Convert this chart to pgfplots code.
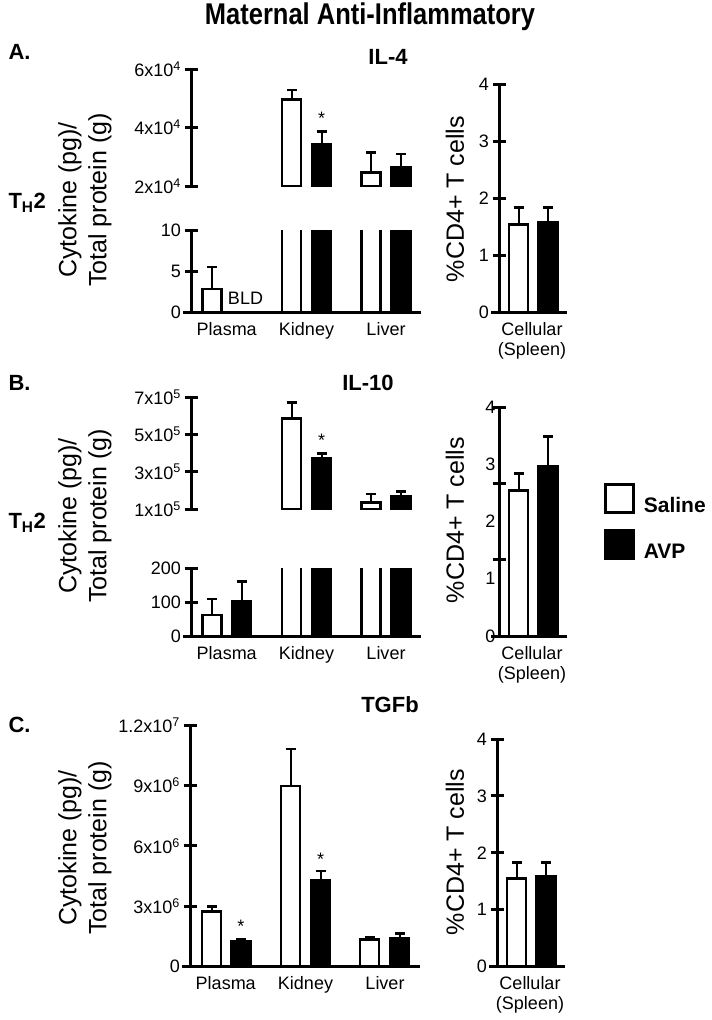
\documentclass[border=0pt]{standalone}
\usepackage{pgfplots}
\pgfplotsset{compat=1.18}
\usepackage{fontspec}
\setmainfont{Liberation Sans}
\newfontfamily\titlefont[FakeStretch=0.85]{Liberation Sans}
\newcommand\tickfont{\fontsize{18}{20}\selectfont}
\newcommand\labfont{\fontsize{25}{30}\selectfont}
\pgfplotsset{
  myaxis/.style={
    scale only axis, clip=true, scaled y ticks=false,
    axis line style={line width=3pt},
    every tick/.append style={line width=3pt, black},
    major tick style={line width=3pt, black},
    tick align=center, major tick length=13pt,
    tick label style={font=\tickfont},
    axis y line*=left,
  },
  lowx/.style={axis x line*=bottom, xtick style={draw=none},
     x axis line style={shorten <=-8pt}},
  topx/.style={axis x line=none, xtick=\empty},
  leftx/.style={xmin=0, xmax=230, width=230pt},
  rightx/.style={xmin=0, xmax=68, width=68pt, ymin=0, ymax=4,
     xtick={33}, xticklabels={Cellular\\(Spleen)},
     xticklabel style={align=center}},
  sal/.style={ybar, bar width=19pt, bar shift=0pt, fill=white, draw=black, line width=2.6pt,
     legend image code/.code={\draw[line width=2.6pt, draw=black, fill=white] (0pt,-6.5pt) rectangle (28pt,21.5pt);},
     error bars/.cd, y dir=plus, y explicit,
     error bar style={line width=2pt, black},
     error mark options={rotate=90, mark size=5pt, line width=2.6pt, black}},
  avp/.style={ybar, bar width=19pt, bar shift=0pt, fill=black, draw=black, line width=2.6pt,
     legend image code/.code={\draw[line width=2.6pt, draw=black, fill=black] (0pt,-6.5pt) rectangle (28pt,21.5pt);},
     error bars/.cd, y dir=plus, y explicit,
     error bar style={line width=2pt, black},
     error mark options={rotate=90, mark size=5pt, line width=2.6pt, black}},
}
\begin{document}
\begin{tikzpicture}
\useasboundingbox (0,0) rectangle (712pt,-1020pt);
% titles and labels
\node[font=\titlefont\bfseries\fontsize{30}{32}\selectfont] at (370pt,-17pt) {Maternal Anti-Inflammatory};
\node[font=\bfseries\fontsize{22}{24}\selectfont, anchor=west] at (5pt,-52pt) {A.};
\node[font=\bfseries\fontsize{22}{24}\selectfont, anchor=west] at (5pt,-383pt) {B.};
\node[font=\bfseries\fontsize{22}{24}\selectfont, anchor=west] at (5pt,-725pt) {C.};
\node[font=\bfseries\fontsize{22}{24}\selectfont] at (388pt,-57pt) {IL-4};
\node[font=\bfseries\fontsize{22}{24}\selectfont] at (368pt,-383pt) {IL-10};
\node[font=\bfseries\fontsize{22}{24}\selectfont] at (390pt,-705pt) {TGFb};
\node[font=\bfseries\fontsize{22}{24}\selectfont, anchor=west] at (5pt,-203pt) {T\textsubscript{H}2};
\node[font=\bfseries\fontsize{22}{24}\selectfont, anchor=west] at (5pt,-523pt) {T\textsubscript{H}2};
\node[rotate=90, align=center, font=\labfont] at (85pt,-200pt) {Cytokine (pg)/\\Total protein (g)};
\node[rotate=90, align=center, font=\labfont] at (85pt,-516pt) {Cytokine (pg)/\\Total protein (g)};
\node[rotate=90, align=center, font=\labfont] at (85pt,-848pt) {Cytokine (pg)/\\Total protein (g)};
\node[rotate=90, font=\labfont] at (455pt,-199pt) {\%CD4+ T cells};
\node[rotate=90, font=\labfont] at (455pt,-520pt) {\%CD4+ T cells};
\node[rotate=90, font=\labfont] at (455pt,-852pt) {\%CD4+ T cells};

% ---------- Panel A ----------
\begin{axis}[myaxis, topx, leftx, at={(191pt,-186pt)}, anchor=south west, height=117pt,
  ymin=2e4, ymax=6e4, ytick={2e4,4e4,6e4},
  yticklabels={2x10\textsuperscript{4},4x10\textsuperscript{4},6x10\textsuperscript{4}}]
\addplot[sal] coordinates {(100.5,4.96e4) +- (0,0.32e4) (180,2.47e4) +- (0,0.67e4)};
\addplot[avp] coordinates {(130.5,3.44e4) +- (0,0.42e4) (210,2.64e4) +- (0,0.45e4)};
\node[font=\fontsize{18}{18}\selectfont] at (axis cs:130.5,4.3e4) {*};
\end{axis}
% lower (broken) segment: tall bars continue above the break
\begin{axis}[myaxis, lowx, leftx, at={(191pt,-312pt)}, anchor=south west, height=82pt,
  ymin=0, ymax=10, ytick={0,5,10}, yticklabels={0,5,10},
  xtick={35.75,115.5,195}, xticklabels={Plasma,Kidney,Liver}]
\addplot[sal] coordinates {(21,2.8) +- (0,2.7)};
\addplot[sal] coordinates {(100.5,20) (180,20)};
\addplot[avp] coordinates {(130.5,20) (210,20)};
\node[font=\tickfont] at (axis cs:54.5,1.7) {BLD};
\end{axis}
\begin{axis}[myaxis, lowx, rightx, at={(499pt,-312pt)}, anchor=south west, height=228pt,
  ytick={0,1,2,3,4}, yticklabels={0,1,2,3,4}]
\addplot[sal] coordinates {(19.5,1.54) +- (0,0.29)};
\addplot[avp] coordinates {(49,1.58) +- (0,0.25)};
\end{axis}

% ---------- Panel B ----------
\begin{axis}[myaxis, topx, leftx, at={(191pt,-509pt)}, anchor=south west, height=112pt,
  ymin=1e5, ymax=7e5, ytick={1e5,3e5,5e5,7e5},
  yticklabels={1x10\textsuperscript{5},3x10\textsuperscript{5},5x10\textsuperscript{5},7x10\textsuperscript{5}}]
\addplot[sal] coordinates {(100.5,5.86e5) +- (0,0.83e5) (180,1.36e5) +- (0,0.44e5)};
\addplot[avp] coordinates {(130.5,3.71e5) +- (0,0.27e5) (210,1.66e5) +- (0,0.27e5)};
\node[font=\fontsize{18}{18}\selectfont] at (axis cs:130.5,4.7e5) {*};
\end{axis}
\begin{axis}[myaxis, lowx, leftx, at={(191pt,-636pt)}, anchor=south west, height=68pt,
  ymin=0, ymax=200, ytick={0,100,200}, yticklabels={0,100,200},
  xtick={35.75,115.5,195}, xticklabels={Plasma,Kidney,Liver}]
\addplot[sal] coordinates {(21,62) +- (0,47)};
\addplot[avp] coordinates {(50.5,103) +- (0,57)};
\addplot[sal] coordinates {(100.5,400) (180,400)};
\addplot[avp] coordinates {(130.5,400) (210,400)};
\end{axis}
\begin{axis}[myaxis, lowx, rightx, at={(499pt,-636pt)}, anchor=south west, height=229pt,
  ytick={0,1.3333,2.6667,4}, yticklabels={},
  extra y ticks={0,1,2,3,4}, extra y tick labels={0,1,2,3,4},
  extra y tick style={major tick length=0pt},
  legend style={at={(1.545,0.668)}, anchor=north west, draw=none, fill=none,
    font=\bfseries\fontsize{21}{23}\selectfont, row sep=13pt, inner sep=0pt,
    /tikz/every odd column/.append style={column sep=7pt}},
  legend cell align=left]
\addplot[sal] coordinates {(19.5,2.54) +- (0,0.30)};
\addlegendentry{Saline}
\addplot[avp] coordinates {(49,2.97) +- (0,0.52)};
\addlegendentry{AVP}
\end{axis}

% ---------- Panel C ----------
\begin{axis}[myaxis, lowx, leftx, at={(190pt,-966.7pt)}, anchor=south west, height=241.7pt,
  ymin=0, ymax=1.2e7, ytick={0,3e6,6e6,9e6,1.2e7},
  yticklabels={0,3x10\textsuperscript{6},6x10\textsuperscript{6},9x10\textsuperscript{6},1.2x10\textsuperscript{7}},
  xtick={35.75,115.5,195}, xticklabels={Plasma,Kidney,Liver}]
\addplot[sal] coordinates {(21.5,2.73e6) +- (0,0.25e6) (100.5,8.98e6) +- (0,1.82e6) (179.5,1.36e6) +- (0,0.08e6)};
\addplot[avp] coordinates {(51,1.28e6) +- (0,0.06e6) (130.5,4.31e6) +- (0,0.44e6) (209.5,1.39e6) +- (0,0.27e6)};
\node[font=\fontsize{18}{18}\selectfont] at (axis cs:51,2.0e6) {*};
\node[font=\fontsize{18}{18}\selectfont] at (axis cs:130.5,5.35e6) {*};
\end{axis}
\begin{axis}[myaxis, lowx, rightx, at={(497pt,-966.7pt)}, anchor=south west, height=227.7pt,
  ytick={0,1,2,3,4}, yticklabels={0,1,2,3,4}]
\addplot[sal] coordinates {(19.5,1.55) +- (0,0.28)};
\addplot[avp] coordinates {(49,1.59) +- (0,0.24)};
\end{axis}
\end{tikzpicture}
\end{document}
